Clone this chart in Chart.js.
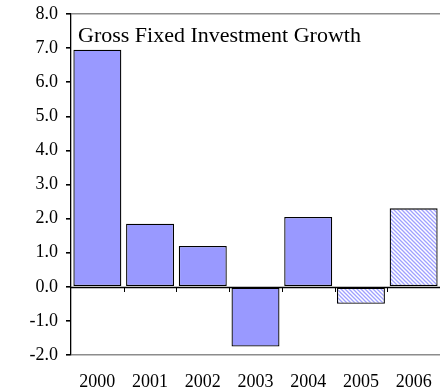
<!DOCTYPE html>
<html>
<head>
<meta charset="utf-8">
<script src="https://cdn.jsdelivr.net/npm/chart.js@4/dist/chart.umd.min.js"></script>
<style>
  html, body { margin: 0; padding: 0; background: #fff; }
  #wrap { width: 440px; height: 392px; }
</style>
</head>
<body>
<div id="wrap"><canvas id="c" width="440" height="392"></canvas></div>
<script>
// Annual growth of gross fixed investment, percent; 2005-2006 are forecasts
const years = ['2000', '2001', '2002', '2003', '2004', '2005', '2006'];
const growth = [6.95, 1.85, 1.2, -1.75, 2.05, -0.5, 2.3];
const forecast = [false, false, false, false, false, true, true];
const yTicks = [-2, -1, 0, 1, 2, 3, 4, 5, 6, 7, 8];
const titleText = 'Gross Fixed Investment Growth';

const FONT = '"Liberation Serif", "Times New Roman", serif';
const SOLID = '#9999ff';

// diagonal hatch used for forecast years
function makeHatch() {
  const p = document.createElement('canvas');
  p.width = 4; p.height = 4;
  const g = p.getContext('2d');
  g.fillStyle = '#ffffff';
  g.fillRect(0, 0, 4, 4);
  g.strokeStyle = '#9fa0ff';
  g.lineWidth = 1.3;
  g.beginPath();
  g.moveTo(-1, -1); g.lineTo(5, 5);
  g.moveTo(-1, 3); g.lineTo(1, 5);
  g.moveTo(3, -1); g.lineTo(5, 1);
  g.stroke();
  return g.createPattern(p, 'repeat');
}
const ctx0 = document.getElementById('c').getContext('2d');
const hatch = makeHatch();

// title inside the plot + small ticks on the zero line between categories
const extras = {
  id: 'extras',
  afterDatasetsDraw(chart) {
    const { ctx, chartArea, scales } = chart;
    const x = scales.x, y = scales.y;
    const y0 = Math.round(y.getPixelForValue(0));
    ctx.save();
    ctx.strokeStyle = '#000';
    ctx.lineWidth = 1.3;
    ctx.beginPath();
    ctx.moveTo(chartArea.left, y0 + 0.5);
    ctx.lineTo(chartArea.right, y0 + 0.5);
    ctx.stroke();
    ctx.lineWidth = 1;
    ctx.beginPath();
    for (let i = 1; i < years.length; i++) {
      const bx = Math.round((x.getPixelForValue(i - 1) + x.getPixelForValue(i)) / 2) + 0.5;
      ctx.moveTo(bx, y0);
      ctx.lineTo(bx, y0 + 5);
    }
    ctx.stroke();
    ctx.fillStyle = '#000';
    ctx.font = '20px ' + FONT;
    ctx.textBaseline = 'alphabetic';
    ctx.textAlign = 'left';
    ctx.translate(chartArea.left + 7, chartArea.top + 28);
    ctx.scale(1.1, 1);
    ctx.fillText(titleText, 0, 0);
    ctx.restore();
  }
};

new Chart(ctx0, {
  type: 'bar',
  data: {
    labels: years,
    datasets: [{
      data: growth,
      backgroundColor: growth.map((v, i) => forecast[i] ? hatch : SOLID),
      borderColor: '#000',
      borderWidth: 1.3,
      borderSkipped: false,
      barPercentage: 0.91,
      categoryPercentage: 1.0
    }]
  },
  options: {
    responsive: false,
    animation: false,
    devicePixelRatio: 1,
    layout: { padding: { left: 0, right: 0, top: 14, bottom: 0 } },
    plugins: { legend: { display: false }, tooltip: { enabled: false }, title: { display: false } },
    scales: {
      x: {
        grid: { display: false },
        border: { display: false },
        ticks: { color: '#000', font: { family: FONT, size: 18 }, padding: 8, maxRotation: 0 },
        afterFit(s) { s.height = 37; s.paddingLeft = 0; s.paddingRight = 0; }
      },
      y: {
        min: -2, max: 8,
        afterBuildTicks(s) { s.ticks = yTicks.map(v => ({ value: v })); },
        afterFit(s) { s.width = 71; s.paddingTop = 0; s.paddingBottom = 0; },
        border: { display: true, color: '#000', width: 1.3 },
        grid: {
          color: c => (c.tick && (c.tick.value === 8 || c.tick.value === -2)) ? '#8c8c8c' : 'rgba(0,0,0,0)',
          lineWidth: 1.6,
          tickColor: '#000',
          tickLength: 5,
          drawTicks: true
        },
        ticks: {
          color: '#000',
          font: { family: FONT, size: 18 },
          padding: 8,
          callback: v => Number(v).toFixed(1)
        }
      }
    }
  },
  plugins: [extras]
});
</script>
</body>
</html>
